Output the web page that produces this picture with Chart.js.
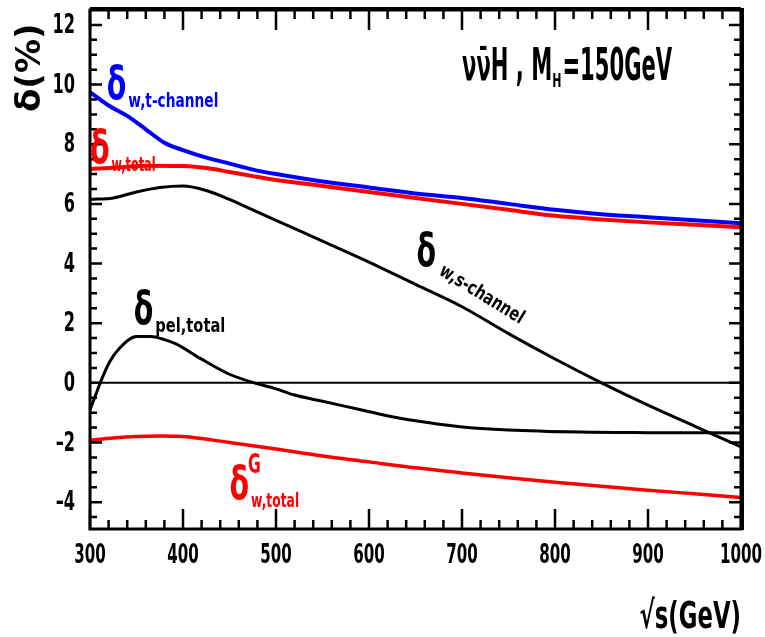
<!DOCTYPE html>
<html>
<head>
<meta charset="utf-8">
<script src="https://cdn.jsdelivr.net/npm/chart.js@4/dist/chart.umd.min.js"></script>
<style>
html,body{margin:0;padding:0;background:#fff;}
#wrap{width:765px;height:637px;position:relative;}
</style>
</head>
<body>
<div id="wrap"><canvas id="c" width="765" height="637"></canvas></div>
<script>
// ---- data ----
const xTicks = [300, 400, 500, 600, 700, 800, 900, 1000];
const yTicks = [-4, -2, 0, 2, 4, 6, 8, 10, 12];

const wTchanX = [300, 320, 340, 360, 380, 400, 425, 450, 475, 500, 550, 600, 650, 700, 750, 800, 850, 900, 950, 1000];
const wTchanY = [9.75, 9.3, 8.95, 8.5, 8.05, 7.8, 7.55, 7.35, 7.15, 7.0, 6.75, 6.55, 6.35, 6.2, 6.0, 5.8, 5.65, 5.55, 5.45, 5.35];

const wTotalX = [300, 330, 360, 400, 425, 450, 475, 500, 550, 600, 650, 700, 750, 800, 850, 900, 950, 1000];
const wTotalY = [7.17, 7.22, 7.28, 7.27, 7.2, 7.07, 6.93, 6.8, 6.6, 6.4, 6.2, 6.0, 5.8, 5.6, 5.48, 5.38, 5.3, 5.22];

const wSchanX = [300, 325, 350, 375, 400, 425, 450, 475, 500, 550, 600, 650, 700, 750, 800, 850, 900, 950, 1000];
const wSchanY = [6.15, 6.2, 6.4, 6.55, 6.6, 6.45, 6.15, 5.8, 5.45, 4.75, 4.05, 3.3, 2.55, 1.65, 0.8, 0.0, -0.75, -1.45, -2.15];

const peTotalX = [300, 305, 311, 321, 332, 350, 365, 380, 393, 418, 447, 472, 500, 519, 550, 591, 612, 650, 698, 750, 827, 900, 1000];
const peTotalY = [-0.9, -0.5, 0, 0.7, 1.17, 1.55, 1.55, 1.45, 1.3, 0.83, 0.33, 0.04, -0.2, -0.4, -0.62, -0.9, -1.05, -1.27, -1.47, -1.58, -1.65, -1.67, -1.68];

const gTotalX = [300, 325, 350, 375, 400, 450, 500, 550, 600, 650, 700, 750, 800, 850, 900, 950, 1000];
const gTotalY = [-1.92, -1.85, -1.8, -1.78, -1.8, -2.0, -2.22, -2.45, -2.65, -2.85, -3.02, -3.18, -3.33, -3.47, -3.6, -3.72, -3.84];

const zeroX = [300, 1000];
const zeroY = [0, 0];

const pts = (xs, ys) => xs.map((x, i) => ({x: x, y: ys[i]}));

const FONT = '"DejaVu Sans", sans-serif';

// draw text squeezed horizontally by factor sx (condensed look of the original)
function sqText(ctx, text, x, y, size, sx, align) {
  ctx.save();
  ctx.font = 'bold ' + size + 'px ' + FONT;
  const w = ctx.measureText(text).width * sx;
  let x0 = x;
  if (align === 'right') x0 = x - w;
  else if (align === 'center') x0 = x - w / 2;
  ctx.translate(x0, y);
  ctx.scale(sx, 1);
  ctx.textAlign = 'left';
  ctx.fillText(text, 0, 0);
  ctx.restore();
  return w;
}

const decor = {
  id: 'decor',
  afterDatasetsDraw(chart) {
    const ctx = chart.ctx;
    const a = chart.chartArea;
    const xs = chart.scales.x, ys = chart.scales.y;
    ctx.save();
    ctx.strokeStyle = '#000';
    ctx.fillStyle = '#000';
    // inward ticks on all four sides
    ctx.lineWidth = 2.5;
    for (let v = 300; v <= 1000; v += 20) {
      const px = xs.getPixelForValue(v);
      const major = (v % 100 === 0);
      const len = major ? 20 : 9;
      ctx.beginPath();
      ctx.moveTo(px, a.bottom); ctx.lineTo(px, a.bottom - len);
      ctx.moveTo(px, a.top); ctx.lineTo(px, a.top + len);
      ctx.stroke();
    }
    for (let v = -4.5; v <= 12.5; v += 0.5) {
      const py = ys.getPixelForValue(v);
      if (py < a.top + 2 || py > a.bottom - 2) continue;
      const major = (Math.abs(v % 2) < 1e-9);
      const len = major ? 12 : 7;
      ctx.beginPath();
      ctx.moveTo(a.left, py); ctx.lineTo(a.left + len, py);
      ctx.moveTo(a.right, py); ctx.lineTo(a.right - len, py);
      ctx.stroke();
    }
    // frame
    ctx.lineWidth = 3;
    ctx.strokeRect(a.left, a.top, a.right - a.left, a.bottom - a.top);
    ctx.lineWidth = 4;
    ctx.beginPath();
    ctx.moveTo(a.right + 1, a.top - 2); ctx.lineTo(a.right + 1, a.bottom + 1);
    ctx.moveTo(a.left, a.top - 1); ctx.lineTo(a.right, a.top - 1);
    ctx.stroke();

    // tick labels
    ctx.textBaseline = 'middle';
    yTicks.forEach(v => {
      sqText(ctx, String(v).replace('-', '–'), a.left - 15, ys.getPixelForValue(v) + 1, 27, 0.6, 'right');
    });
    xTicks.forEach(v => {
      sqText(ctx, String(v), xs.getPixelForValue(v), a.bottom + 27, 27, 0.56, 'center');
    });
    ctx.textBaseline = 'alphabetic';
    // axis titles
    sqText(ctx, '√s(GeV)', a.right, 628, 38, 0.6, 'right');
    ctx.save();
    ctx.translate(40, 112);
    ctx.rotate(-Math.PI / 2);
    sqText(ctx, 'δ(%)', 0, 0, 34, 1.0, 'left');
    ctx.restore();

    // curve labels: delta + subscript, anchored in data coordinates
    function lab(x, y, color, sub, subW, sup, angle) {
      const px = xs.getPixelForValue(x), py = ys.getPixelForValue(y);
      ctx.save();
      ctx.fillStyle = color;
      const w = sqText(ctx, 'δ', px, py, 46, 0.62, 'left');
      if (sup) sqText(ctx, sup, px + w - 1, py - 26, 26, 0.6, 'left');
      ctx.translate(px + w + 2, py + 8);
      if (angle) ctx.rotate(angle);
      ctx.font = 'bold 19px ' + FONT;
      const sw = ctx.measureText(sub).width;
      sqText(ctx, sub, 0, 0, 19, subW / sw, 'left');
      ctx.restore();
    }
    lab(318, 9.5, '#0000ff', 'w,t-channel', 90, null, 0);
    lab(300, 7.38, '#ff0000', 'w,total', 44, null, 0);
    lab(651, 3.92, '#000', 'w,s-channel', 96, null, 0.55);
    lab(347, 1.98, '#000', 'pel,total', 70, null, 0);
    lab(450, -3.9, '#ff0000', 'w,total', 48, 'G', 0);

    // process title
    ctx.fillStyle = '#000';
    let cx = 462;
    const ty = 80;
    cx += sqText(ctx, 'νν̄H , M', cx, ty, 44, 0.48, 'left');
    cx += sqText(ctx, 'H', cx, ty + 7, 20, 0.55, 'left') + 1;
    sqText(ctx, '=150GeV', cx, ty, 44, 0.48, 'left');
    ctx.restore();
  }
};

const lineDs = (label, data, color, width) => ({
  label: label, data: data, borderColor: color, backgroundColor: color,
  borderWidth: width, pointRadius: 0, fill: false, tension: 0.35, cubicInterpolationMode: 'monotone'
});

new Chart(document.getElementById('c'), {
  type: 'line',
  data: {
    datasets: [
      lineDs('zero', pts(zeroX, zeroY), '#000', 2),
      lineDs('w,s-channel', pts(wSchanX, wSchanY), '#000', 3),
      lineDs('pel,total', pts(peTotalX, peTotalY), '#000', 3),
      lineDs('G w,total', pts(gTotalX, gTotalY), '#ff0000', 3.5),
      lineDs('w,total', pts(wTotalX, wTotalY), '#ff0000', 4),
      lineDs('w,t-channel', pts(wTchanX, wTchanY), '#0000ff', 4)
    ]
  },
  options: {
    responsive: false,
    animation: false,
    layout: { padding: { top: 10, right: 24, left: 0, bottom: 0 } },
    plugins: { legend: { display: false }, tooltip: { enabled: false } },
    scales: {
      x: {
        type: 'linear', min: 300, max: 1000,
        afterBuildTicks: s => { s.ticks = xTicks.map(v => ({value: v})); },
        afterFit: s => { s.height = 108; },
        grid: { display: false, drawTicks: false },
        border: { display: false },
        ticks: { display: false }
      },
      y: {
        type: 'linear', min: -4.9, max: 12.5,
        afterBuildTicks: s => { s.ticks = yTicks.map(v => ({value: v})); },
        afterFit: s => { s.width = 90; },
        grid: { display: false, drawTicks: false },
        border: { display: false },
        ticks: { display: false }
      }
    }
  },
  plugins: [decor]
});
</script>
</body>
</html>
